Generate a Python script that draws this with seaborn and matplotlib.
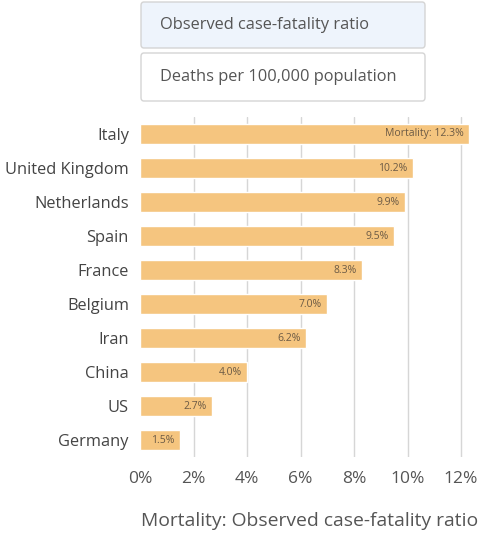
import matplotlib
matplotlib.use("Agg")
import matplotlib.pyplot as plt
from matplotlib.patches import FancyBboxPatch
import seaborn as sns
import pandas as pd

countries = ["Italy", "United Kingdom", "Netherlands", "Spain", "France",
             "Belgium", "Iran", "China", "US", "Germany"]
mortality = [12.3, 10.2, 9.9, 9.5, 8.3, 7.0, 6.2, 4.0, 2.7, 1.5]
x_ticks = [0, 2, 4, 6, 8, 10, 12]
buttons = ["Observed case-fatality ratio", "Deaths per 100,000 population"]

sns.set_theme(style="white")
plt.rcParams['font.family'] = ['Open Sans', 'DejaVu Sans']

df = pd.DataFrame({"country": countries, "mortality": mortality})

fig = plt.figure(figsize=(5.0, 5.48), dpi=100)
ax = fig.add_axes([0.28, 0.166, 0.68, 0.6205])

bar_color = "#f5c57f"
text_color = "#555555"
sns.barplot(data=df, x="mortality", y="country", color=bar_color,
            saturation=1, width=0.6, ax=ax, zorder=2)

ax.set_xlim(0, 12.71)
ax.set_xticks(x_ticks)
ax.set_xticklabels([f"{t}%" for t in x_ticks], fontsize=12.5, color=text_color)
ax.tick_params(axis="y", labelsize=11.8, labelcolor="#444444", length=0, pad=8)
ax.tick_params(axis="x", length=0, pad=10)
for t in x_ticks[1:]:
    ax.axvline(t, color="#d6d6d6", lw=1, zorder=1)
for s in ax.spines.values():
    s.set_visible(False)
ax.set_ylabel("")
ax.set_xlabel("")

fig.text(141 / 500, 1 - 521 / 548, "Mortality: Observed case-fatality ratio",
         fontsize=13.9, color=text_color, ha="left", va="center")

for i, v in enumerate(mortality):
    lab = f"Mortality: {v}%" if i == 0 else f"{v}%"
    ax.text(v - 0.2, i, lab, ha="right", va="center", fontsize=7.5,
            color="#6b5a45", zorder=3)

# toggle buttons at top
W, H = 500, 548
boxes = [(141, 2, 284, 46, "#eef4fc"), (141, 53, 284, 48, "#ffffff")]
for (x, y, w, h, fc), label in zip(boxes, buttons):
    p = FancyBboxPatch((x / W, 1 - (y + h) / H), w / W, h / H,
                       boxstyle="round,pad=0,rounding_size=0.006",
                       transform=fig.transFigure, fc=fc, ec="#d4d4d4", lw=1)
    fig.patches.append(p)
    fig.text((x + 19) / W, 1 - (y + h / 2) / H, label, fontsize=11.8,
             color="#555555", va="center", ha="left")

fig.savefig("out.png", dpi=100, facecolor="white")
